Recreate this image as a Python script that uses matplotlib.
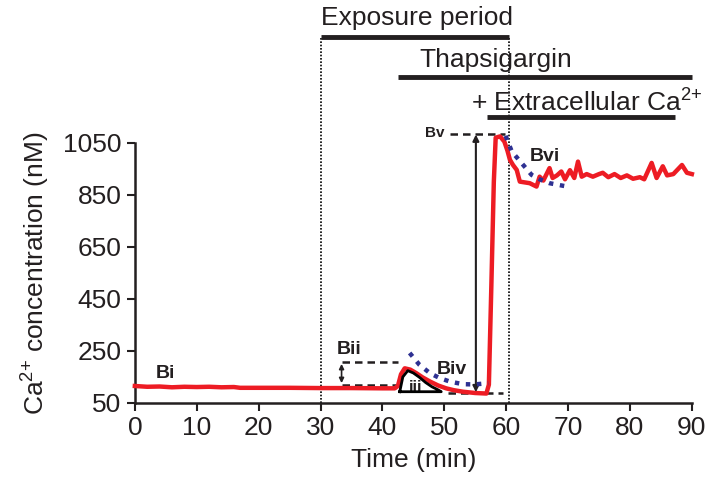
import matplotlib
matplotlib.use("Agg")
import matplotlib.pyplot as plt

plt.rcParams['font.family'] = ['Liberation Sans', 'DejaVu Sans']
plt.rcParams['mathtext.fontset'] = 'custom'
plt.rcParams['mathtext.rm'] = 'Liberation Sans'
plt.rcParams['mathtext.it'] = 'Liberation Sans:italic'
plt.rcParams['mathtext.bf'] = 'Liberation Sans:bold'

# ── data ────────────────────────────────────────────────────
t_red = [0, 2, 4, 6, 8, 10, 12, 14, 16, 17, 20, 25, 30, 35, 40, 42,
         42.5, 43, 43.6, 44.5, 45.5, 46.5, 47.7, 49, 50.3, 51.5, 53, 55, 56.8,
         57.2, 57.6, 58, 58.3, 59, 59.7, 60.2, 60.6, 61.1, 61.7, 62.2, 63.8, 64.9,
         65.4, 66, 67, 67.5, 68.2, 68.9, 69.5, 70.3, 71, 71.6, 72.2, 73, 74, 75,
         75.6, 76.5, 77.5, 78.5, 79.5, 80.5, 81.6, 82.3, 83.5, 84.3, 85.3, 86,
         87, 88.4, 89.2, 90]
ca_red = [115, 112, 113, 110, 112, 111, 112, 110, 111, 108, 108, 108, 107, 107, 106, 106,
          115, 160, 183, 178, 164, 148, 132, 117, 106, 99, 93, 88, 86,
          120, 500, 900, 1070, 1075, 1055, 1020, 985, 965, 946, 901, 895, 882,
          920, 905, 953, 915, 925, 940, 910, 945, 915, 978, 920, 930, 920, 930,
          935, 918, 930, 915, 925, 912, 918, 910, 973, 915, 960, 925,
          930, 965, 935, 930]

# fitted decays (blue dotted)
t_fit1 = [44.4, 46.0, 47.7, 49.3, 50.9, 53.0, 54.9, 57.1]
ca_fit1 = [242, 196, 164, 145, 132, 122, 121, 126]
t_fit2 = [59.9, 60.9, 62.5, 64.1, 65.4, 67.0, 70.3]
ca_fit2 = [1077, 1017, 972, 927, 910, 895, 880]

# area under first transient (iii)
t_area = [42.8, 43.3, 44.1, 45, 46, 47, 48, 49, 49.5, 42.8]
ca_area = [93, 150, 174, 165, 148, 128, 112, 100, 93, 93]

xticks = list(range(0, 91, 10))
yticks = [50, 250, 450, 650, 850, 1050]

# treatment bars: (label, start, end, bar y, text x, text y, ha)
bars = [("Exposure period", 30, 60.4, 1459, 30, 1529, "left"),
        ("Thapsigargin", 42.5, 90, 1303, 58.3, 1369, "center"),
        ("+ Extracellular Ca$^{2{+}}$", 56.9, 87.3, 1151, 54.3, 1204, "left")]

fig = plt.figure(figsize=(7.06, 4.86), dpi=100)
ax = fig.add_axes([0.191, 0.171, 0.789, 0.535])

ax.plot(t_red, ca_red, color="#ed1c24", lw=3.2, solid_joinstyle="round", clip_on=False, zorder=3)
ax.plot(t_area, ca_area, color="black", lw=2, zorder=4)
ax.plot(t_fit1, ca_fit1, color="#2e3192", lw=3.2, ls=(0, (1, 1.5)), zorder=5)
ax.plot(t_fit2, ca_fit2, color="#2e3192", lw=3.2, ls=(0, (1, 1.5)), zorder=5, clip_on=False)

# vertical dotted guides
for xv in (30, 60.4):
    ax.plot([xv, xv], [50, 1459], color="black", lw=1.2, ls=(0, (1, 1)), clip_on=False, zorder=2)

# treatment bars and labels
for lbl, x0, x1, yb, xt, yt, ha in bars:
    ax.plot([x0, x1], [yb, yb], color="#231f20", lw=3.5, clip_on=False, solid_capstyle="butt")
    ax.text(xt, yt, lbl, fontsize=19, ha=ha, va="center", color="#231f20", clip_on=False)

# annotation lines
dash = dict(color="#231f20", lw=1.8, ls=(0, (3, 2)), clip_on=False)
ax.plot([33.4, 42.5], [206, 206], **dash)
ax.plot([33.4, 42.5], [120, 120], **dash)
ax.plot([50.6, 59.5], [88, 88], **dash)
ax.plot([51.0, 59.8], [1085, 1085], **dash)
ax.annotate("", xy=(33.4, 200), xytext=(33.4, 126),
            arrowprops=dict(arrowstyle="<|-|>", color="#231f20", lw=1.2, mutation_scale=7,
                            shrinkA=0, shrinkB=0))
ax.annotate("", xy=(55.1, 1082), xytext=(55.1, 91),
            arrowprops=dict(arrowstyle="<|-|>", color="#231f20", lw=1.5, mutation_scale=9,
                            shrinkA=0, shrinkB=0), annotation_clip=False)

lab = dict(fontsize=14, fontweight="bold", color="#231f20", ha="center", va="center")
ax.text(5.0, 163, "Bi", **lab)
ax.text(34.6, 256, "Bii", **lab)
ax.text(45.4, 108, "iii", fontsize=12, fontweight="bold", color="#231f20", ha="center", va="center")
ax.text(51.3, 180, "Biv", **lab)
ax.text(48.5, 1087, "Bv", fontsize=11, fontweight="bold", color="#231f20", ha="center", va="center")
ax.text(66.3, 998, "Bvi", **lab)

ax.set_xlim(0, 90)
ax.set_ylim(50, 1050)
ax.set_xticks(xticks)
ax.set_yticks(yticks)
ax.tick_params(labelsize=19, width=1.5, length=6, color="#231f20", labelcolor="#231f20")
for s in ("top", "right"):
    ax.spines[s].set_visible(False)
for s in ("left", "bottom"):
    ax.spines[s].set_linewidth(1.8)
    ax.spines[s].set_color("#231f20")

ax.set_xlabel("Time (min)", fontsize=19, color="#231f20", labelpad=6)
ax.set_ylabel("Ca$^{2{+}}$ concentration (nM)", fontsize=19, color="#231f20", labelpad=8)

fig.savefig("out.png", dpi=100)
